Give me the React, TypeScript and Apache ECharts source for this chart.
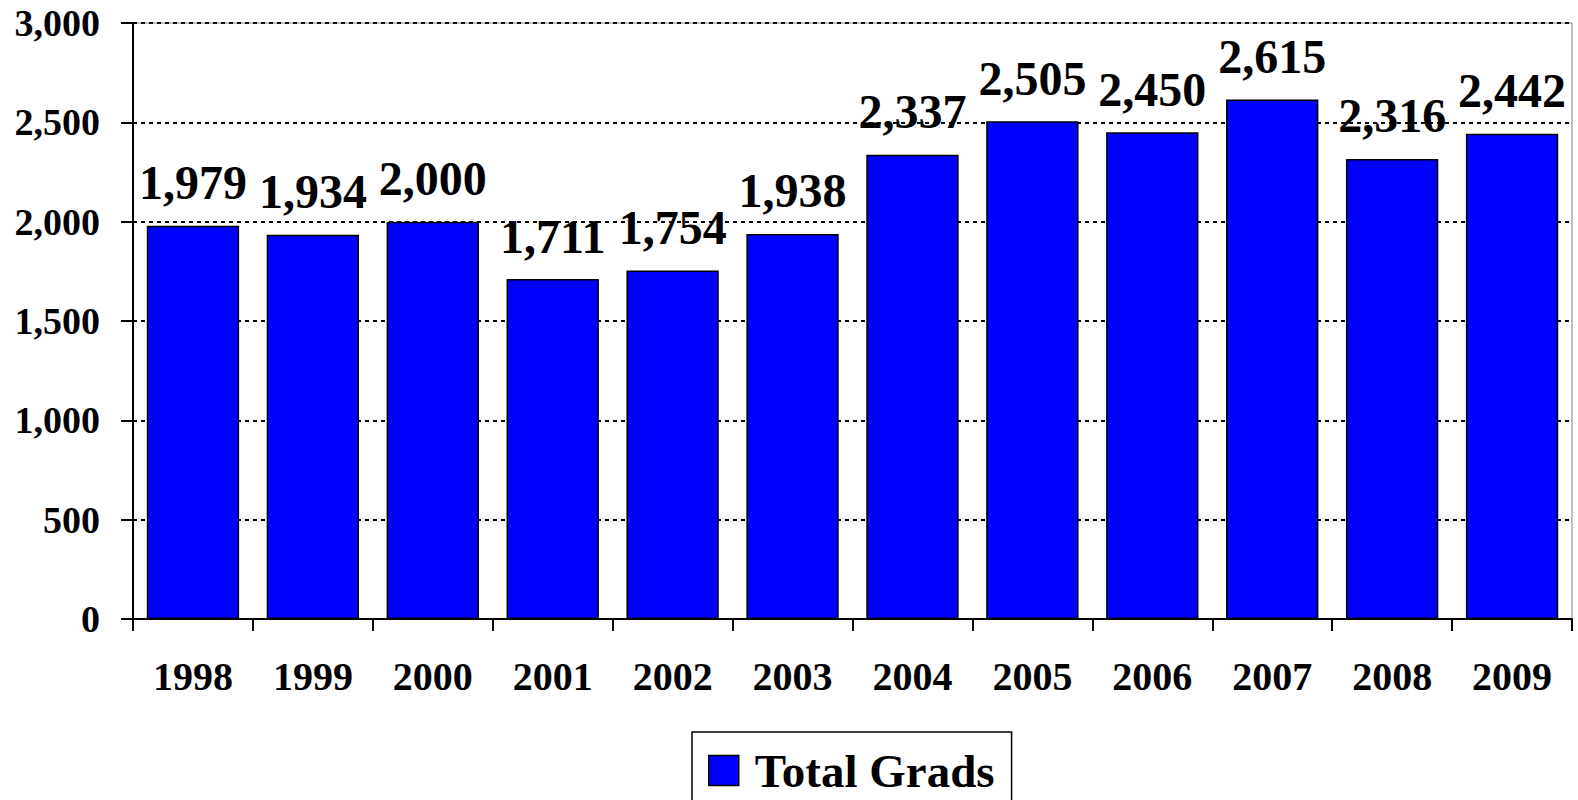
import React, { useEffect, useRef } from "react";
import * as echarts from "echarts";

const years = ["1998", "1999", "2000", "2001", "2002", "2003", "2004", "2005", "2006", "2007", "2008", "2009"];
const totalGrads = [1979, 1934, 2000, 1711, 1754, 1938, 2337, 2505, 2450, 2615, 2316, 2442];
const seriesName = "Total Grads";

const FONT = '"Liberation Serif", "Times New Roman", serif';

export default function App() {
  const ref = useRef<HTMLDivElement>(null);
  useEffect(() => {
    if (!ref.current) return;
    const chart = echarts.init(ref.current, null, { renderer: "svg" });
    chart.setOption({
      animation: false,
      backgroundColor: "#ffffff",
      textStyle: { fontFamily: FONT, fontWeight: "bold", color: "#000" },
      grid: {
        left: 133,
        top: 23,
        right: 6,
        bottom: 181,
        containLabel: false,
        show: true,
        borderColor: "#808080",
        borderWidth: 1,
      },
      legend: {
        show: true,
        left: 692,
        top: 732,
        data: [{ name: seriesName, icon: "rect" }],
        itemWidth: 30,
        itemHeight: 30,
        itemGap: 10,
        padding: [15, 17, 15, 16],
        borderColor: "#000",
        borderWidth: 1.5,
        textStyle: {
          fontFamily: FONT,
          fontWeight: "bold",
          fontSize: 47,
          color: "#000",
          padding: [0, 0, 0, 11],
        },
        itemStyle: { borderColor: "#000", borderWidth: 1.5 },
      },
      xAxis: {
        type: "category",
        data: years,
        boundaryGap: true,
        axisLine: { show: true, lineStyle: { color: "#000", width: 2 } },
        axisTick: { show: true, alignWithLabel: false, length: 12, lineStyle: { color: "#000", width: 2 } },
        axisLabel: { fontFamily: FONT, fontWeight: "bold", fontSize: 40, color: "#000", margin: 37, interval: 0 },
        splitLine: { show: false },
      },
      yAxis: {
        type: "value",
        min: 0,
        max: 3000,
        interval: 500,
        axisLine: { show: true, lineStyle: { color: "#000", width: 2 } },
        axisTick: { show: true, inside: false, length: 12, lineStyle: { color: "#000", width: 2 } },
        axisLabel: {
          fontFamily: FONT,
          fontWeight: "bold",
          fontSize: 38,
          color: "#000",
          margin: 33,
          formatter: (v: number) => v.toLocaleString("en-US"),
        },
        splitLine: { show: true, lineStyle: { color: "#000", width: 2, type: [4, 4] } },
      },
      series: [
        {
          name: seriesName,
          type: "bar",
          data: totalGrads,
          barCategoryGap: "23%",
          itemStyle: { color: "#0000FF", borderColor: "#000", borderWidth: 1.5 },
          label: {
            show: true,
            position: "top",
            distance: 19,
            fontFamily: FONT,
            fontWeight: "bold",
            fontSize: 48,
            color: "#000",
            formatter: (p: any) => Number(p.value).toLocaleString("en-US"),
          },
        },
      ],
    });
    return () => chart.dispose();
  }, []);
  return (
    <div
      ref={ref}
      style={{ position: "fixed", left: 0, top: 0, width: 1578, height: 800 }}
    />
  );
}
